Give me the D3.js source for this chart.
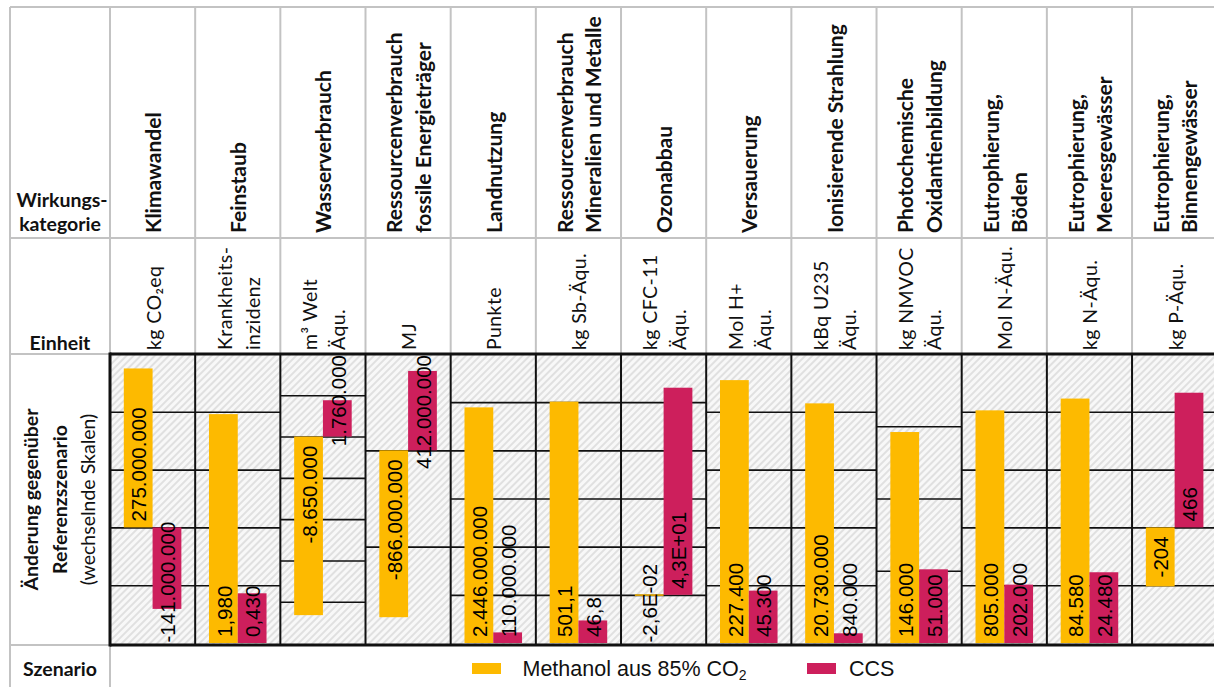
<!DOCTYPE html>
<html>
<head>
<meta charset="utf-8">
<script src="https://cdn.jsdelivr.net/npm/d3@7"></script>
<style>
  body { margin: 0; background: #fff; }
  svg { display: block; }
</style>
</head>
<body>
<svg id="chart" width="1214" height="687"></svg>
<script>
// Impact categories (line breaks mark wrapped header lines)
const categories = [
  "Klimawandel", "Feinstaub", "Wasserverbrauch",
  "Ressourcenverbrauch\nfossile Energieträger", "Landnutzung",
  "Ressourcenverbrauch\nMineralien und Metalle", "Ozonabbau", "Versauerung",
  "Ionisierende Strahlung", "Photochemische\nOxidantienbildung",
  "Eutrophierung,\nBöden", "Eutrophierung,\nMeeresgewässer", "Eutrophierung,\nBinnengewässer"
];
const units = [
  "kg CO₂eq", "Krankheits-\ninzidenz", "m³ Welt\nÄqu.", "MJ", "Punkte", "kg Sb-Äqu.",
  "kg CFC-11\nÄqu.", "Mol H+\nÄqu.", "kBq U235\nÄqu.", "kg NMVOC\nÄqu.",
  "Mol N-Äqu.", "kg N-Äqu.", "kg P-Äqu."
];
const seriesNames = ["Methanol aus 85% CO", "CCS"];

// Change versus reference scenario, per category
const methanol = [275000000, 1.98, -8650000, -866000000, 2446000000, 501.1, -0.026, 227400, 20730000, 146000, 805000, 84580, -204];
const ccs = [-141000000, 0.43, 1760000, 412000000, 110000000, 46.8, 43, 45300, 840000, 51000, 202000, 24480, 466];

// Individual value axis per category
const axisMin = [-200e6, 0, -10e6, -1000e6, 0, 0, -10, 0, 0, 0, 0, 0, -400];
const axisMax = [300e6, 2.5, 4e6, 500e6, 3000e6, 600, 50, 250000, 25e6, 200000, 1e6, 100000, 600];
const axisStep = [100e6, 0.5, 2e6, 500e6, 500e6, 100, 10, 50000, 5e6, 50000, 200000, 20000, 200];
const labelFormat = ["int", "dec3", "int", "int", "int", "dec1", "exp", "int", "int", "int", "int", "int", "int"];

const colors = ["#FDBA00", "#CD1F5C"];

// ---------- layout ----------
const svg = d3.select("#chart");
const tableLeft = 10, firstCol = 110, colW = 85.17;
const tableTop = 7, row1 = 238, plotTop = 354, plotBot = 643, plotLine = 645, tableBottom = 687;
const nCols = categories.length;
const tableRight = firstCol + nCols * colW;
const gridGray = "#c3c3c3";
const headFont = "Lato, 'Open Sans', sans-serif";
const numFont = "'Liberation Sans', Arial, sans-serif";

const de = d3.formatLocale({ decimal: ",", thousands: ".", grouping: [3], currency: ["", " €"], minus: "-" });
const fmt = {
  int: de.format(",.0f"),
  dec3: de.format(".3f"),
  dec1: de.format(".1f"),
  exp: v => {
    const [m, e] = v.toExponential(1).split("e");
    const ev = parseInt(e, 10);
    return m.replace(".", ",") + "E" + (ev < 0 ? "-" : "+") + String(Math.abs(ev)).padStart(2, "0");
  }
};

// hatch background of the plot row
const defs = svg.append("defs");
const pat = defs.append("pattern")
  .attr("id", "hatch").attr("patternUnits", "userSpaceOnUse")
  .attr("width", 5).attr("height", 5).attr("patternTransform", "rotate(45)");
pat.append("rect").attr("width", 5).attr("height", 5).attr("fill", "#f8f8f8");
pat.append("rect").attr("width", 2).attr("height", 5).attr("fill", "#e0e0e0");

svg.append("rect")
  .attr("x", firstCol).attr("y", plotTop).attr("width", tableRight - firstCol).attr("height", plotLine - plotTop)
  .attr("fill", "url(#hatch)");

// ---------- table lines (header rows) ----------
const tbl = svg.append("g").attr("stroke", gridGray).attr("stroke-width", 2).attr("fill", "none");
tbl.append("line").attr("x1", tableLeft).attr("x2", tableRight).attr("y1", tableTop).attr("y2", tableTop);
tbl.append("line").attr("x1", tableLeft).attr("x2", tableRight).attr("y1", row1).attr("y2", row1);
tbl.append("line").attr("x1", tableLeft).attr("x2", firstCol).attr("y1", plotTop).attr("y2", plotTop);
tbl.append("line").attr("x1", tableLeft).attr("x2", firstCol).attr("y1", plotLine).attr("y2", plotLine);
tbl.append("line").attr("x1", tableLeft).attr("x2", tableLeft).attr("y1", tableTop).attr("y2", tableBottom);
tbl.append("line").attr("x1", firstCol).attr("x2", firstCol).attr("y1", plotLine).attr("y2", tableBottom);
d3.range(nCols + 1).forEach(i => {
  const x = firstCol + i * colW;
  tbl.append("line").attr("x1", x).attr("x2", x).attr("y1", tableTop).attr("y2", plotTop);
});

// ---------- left column labels ----------
const lab = svg.append("g").attr("font-family", headFont).attr("fill", "#111");
lab.append("text").attr("x", 62).attr("y", 207).attr("text-anchor", "middle")
  .attr("font-weight", "bold").attr("font-size", 19.5).text("Wirkungs-");
lab.append("text").attr("x", 60).attr("y", 231).attr("text-anchor", "middle")
  .attr("font-weight", "bold").attr("font-size", 19.5).text("kategorie");
lab.append("text").attr("x", 60).attr("y", 350).attr("text-anchor", "middle")
  .attr("font-weight", "bold").attr("font-size", 19.5).text("Einheit");
lab.append("text").attr("x", 60).attr("y", 676).attr("text-anchor", "middle")
  .attr("font-weight", "bold").attr("font-size", 19.5).text("Szenario");
const yMid = (plotTop + plotLine) / 2;
[["Änderung gegenüber", 38, "bold"], ["Referenzszenario", 67, "bold"], ["(wechselnde Skalen)", 95, "normal"]]
  .forEach(([t, x, w]) => {
    lab.append("text").attr("transform", `translate(${x},${yMid}) rotate(-90)`)
      .attr("text-anchor", "middle").attr("font-weight", w).attr("font-size", 19.5).text(t);
  });

// ---------- rotated header texts ----------
function rotatedLines(g, text, cx, yStart, weight, size, gap, spacing) {
  const lines = text.split("\n");
  lines.forEach((ln, k) => {
    const x = cx + (k - (lines.length - 1) / 2) * gap;
    g.append("text")
      .attr("transform", `translate(${x},${yStart}) rotate(-90)`)
      .attr("dy", "0.36em")
      .attr("font-weight", weight).attr("font-size", size)
      .attr("letter-spacing", spacing)
      .text(ln);
  });
}
const head = svg.append("g").attr("font-family", headFont).attr("fill", "#111");
categories.forEach((c, i) => {
  const cx = firstCol + i * colW + colW / 2 + 1;
  rotatedLines(head, c, cx, 233, "bold", 21, 28.5, 0);
  rotatedLines(head, units[i], cx, 350, "normal", 19.5, 28.5, 0.4);
});

// ---------- panels ----------
const band = d3.scaleBand().domain([0, 1]).range([0, colW]).paddingInner(0).paddingOuter(0.48);

categories.forEach((c, i) => {
  const x0 = firstCol + i * colW;
  const g = svg.append("g").attr("transform", `translate(${x0},0)`);
  const y = d3.scaleLinear().domain([axisMin[i], axisMax[i]]).range([plotBot, plotTop]);
  const n = Math.round((axisMax[i] - axisMin[i]) / axisStep[i]);
  const ticks = d3.range(1, n).map(k => axisMin[i] + k * axisStep[i]);

  // horizontal gridlines
  const ax = g.append("g").call(d3.axisRight(y).tickValues(ticks).tickSize(colW).tickFormat(""));
  ax.select(".domain").remove();
  ax.selectAll("line").attr("stroke", "#111").attr("stroke-width", 1.6);

  const vals = [methanol[i], ccs[i]];
  const y0 = y(0);
  // bars
  g.selectAll("rect.bar").data(vals).join("rect")
    .attr("class", "bar")
    .attr("x", (d, k) => band(k))
    .attr("width", band.bandwidth())
    .attr("y", d => Math.min(y(d), y0) - (Math.abs(y(d) - y0) < 1 ? 0.5 : 0))
    .attr("height", d => Math.max(Math.abs(y(d) - y0), 1.5))
    .attr("fill", (d, k) => colors[k]);

  // value labels (rotated, anchored at the bar base, kept inside the plot)
  g.selectAll("text.val").data(vals).join("text")
    .attr("class", "val")
    .attr("font-family", numFont).attr("font-size", 20.5).attr("fill", "#000")
    .attr("dy", "0.4em")
    .text(d => fmt[labelFormat[i]](d))
    .each(function (d, k) {
      const len = this.getComputedTextLength();
      let ys;
      if (d >= 0) {
        ys = y0 - 6;
        if (ys - len < plotTop + 1) ys = plotTop + 1 + len;
      } else {
        ys = y0 + 9 + len;
        if (ys > plotBot - 0.5) ys = plotBot - 0.5;
      }
      const xc = band(k) + band.bandwidth() / 2;
      d3.select(this).attr("transform", `translate(${xc},${ys}) rotate(-90)`);
    });
});

// panel separators and frame of the plot row
const frame = svg.append("g").attr("stroke", "#111").attr("fill", "none");
d3.range(1, nCols).forEach(i => {
  const x = firstCol + i * colW;
  frame.append("line").attr("x1", x).attr("x2", x).attr("y1", plotTop).attr("y2", plotLine).attr("stroke-width", 2);
});
frame.append("line").attr("x1", firstCol).attr("x2", tableRight).attr("y1", plotTop).attr("y2", plotTop).attr("stroke-width", 3);
frame.append("line").attr("x1", firstCol).attr("x2", tableRight).attr("y1", plotLine).attr("y2", plotLine).attr("stroke-width", 3);
frame.append("line").attr("x1", firstCol).attr("x2", firstCol).attr("y1", plotTop - 1.5).attr("y2", plotLine + 1.5).attr("stroke-width", 3);

// ---------- legend ----------
const legend = svg.append("g").attr("font-family", numFont).attr("font-size", 21.5).attr("fill", "#111");
const legendX = [472, 807];
const legendTextX = [522.5, 849];
seriesNames.forEach((s, k) => {
  legend.append("rect").attr("x", legendX[k]).attr("y", 663).attr("width", 29).attr("height", 11).attr("fill", colors[k]);
  const t = legend.append("text").attr("x", legendTextX[k]).attr("y", 675.5).text(s);
  if (k === 0) t.append("tspan").attr("font-size", 14).attr("dy", 4).text("2");
});
</script>
</body>
</html>
